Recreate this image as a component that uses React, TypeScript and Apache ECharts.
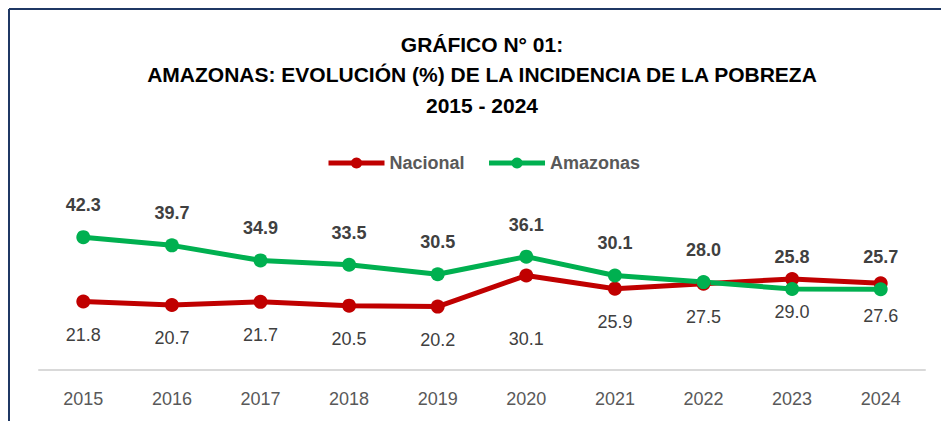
import React, { useEffect, useRef } from "react";
import * as echarts from "echarts";

const years = ["2015", "2016", "2017", "2018", "2019", "2020", "2021", "2022", "2023", "2024"];
const nacional = [21.8, 20.7, 21.7, 20.5, 20.2, 30.1, 25.9, 27.5, 29.0, 27.6];
const amazonas = [42.3, 39.7, 34.9, 33.5, 30.5, 36.1, 30.1, 28.0, 25.8, 25.7];
const titleLines = [
  "GRÁFICO N° 01:",
  "AMAZONAS: EVOLUCIÓN (%) DE LA INCIDENCIA DE LA POBREZA",
  "2015 - 2024",
];

export default function App() {
  const ref = useRef<HTMLDivElement>(null);
  useEffect(() => {
    if (!ref.current) return;
    const chart = echarts.init(ref.current, undefined, { renderer: "svg" });
    const RED = "#c00000";
    const GREEN = "#00b050";
    chart.setOption({
      animation: false,
      backgroundColor: "#ffffff",
      title: {
        text: titleLines.join("\n"),
        left: 477,
        textAlign: "center",
        top: 24,
        textStyle: {
          fontFamily: "Liberation Sans, Arial, sans-serif",
          fontWeight: "bold",
          fontSize: 21,
          lineHeight: 30.5,
          color: "#000000",
        },
      },
      legend: {
        top: 149,
        left: 321,
        itemWidth: 56,
        itemHeight: 14,
        itemGap: 22,
        lineStyle: { width: 5 },
        textStyle: {
          fontFamily: "Liberation Sans, Arial, sans-serif",
          fontWeight: "bold",
          fontSize: 18,
          color: "#595959",
        },
        data: ["Nacional", "Amazonas"],
      },
      grid: { left: 39, right: 16, top: 213, bottom: 51, containLabel: false },
      xAxis: {
        type: "category",
        data: years,
        boundaryGap: true,
        axisLine: { lineStyle: { color: "#d9d9d9", width: 2 } },
        axisTick: { show: false },
        axisLabel: {
          color: "#595959",
          fontFamily: "Liberation Sans, Arial, sans-serif",
          fontSize: 18,
          margin: 20,
        },
      },
      yAxis: {
        type: "value",
        min: 0,
        max: 50,
        show: false,
        splitLine: { show: false },
      },
      graphic: [
        { type: "line", shape: { x1: 9, y1: 9, x2: 941, y2: 9 }, style: { stroke: "#1f3864", lineWidth: 2 } },
        { type: "line", shape: { x1: 9, y1: 9, x2: 9, y2: 421 }, style: { stroke: "#1f3864", lineWidth: 2 } },
      ],
      series: [
        {
          name: "Nacional",
          type: "line",
          data: nacional.map((v, i) =>
            i === 5 ? { value: v, label: { distance: 48 } } : v
          ),
          color: RED,
          lineStyle: { color: RED, width: 5 },
          itemStyle: { color: RED },
          symbol: "circle",
          symbolSize: 14,
          label: {
            show: true,
            position: "bottom",
            distance: 17,
            formatter: (p: any) => Number(p.value).toFixed(1),
            color: "#404040",
            fontFamily: "Liberation Sans, Arial, sans-serif",
            fontSize: 18,
          },
        },
        {
          name: "Amazonas",
          type: "line",
          data: amazonas,
          color: GREEN,
          lineStyle: { color: GREEN, width: 5 },
          itemStyle: { color: GREEN },
          symbol: "circle",
          symbolSize: 14,
          label: {
            show: true,
            position: "top",
            distance: 16,
            formatter: (p: any) => Number(p.value).toFixed(1),
            color: "#404040",
            fontFamily: "Liberation Sans, Arial, sans-serif",
            fontWeight: "bold",
            fontSize: 18,
          },
        },
      ],
    });
    return () => chart.dispose();
  }, []);
  return <div ref={ref} style={{ width: 941, height: 421, position: "absolute", left: 0, top: 0 }} />;
}
